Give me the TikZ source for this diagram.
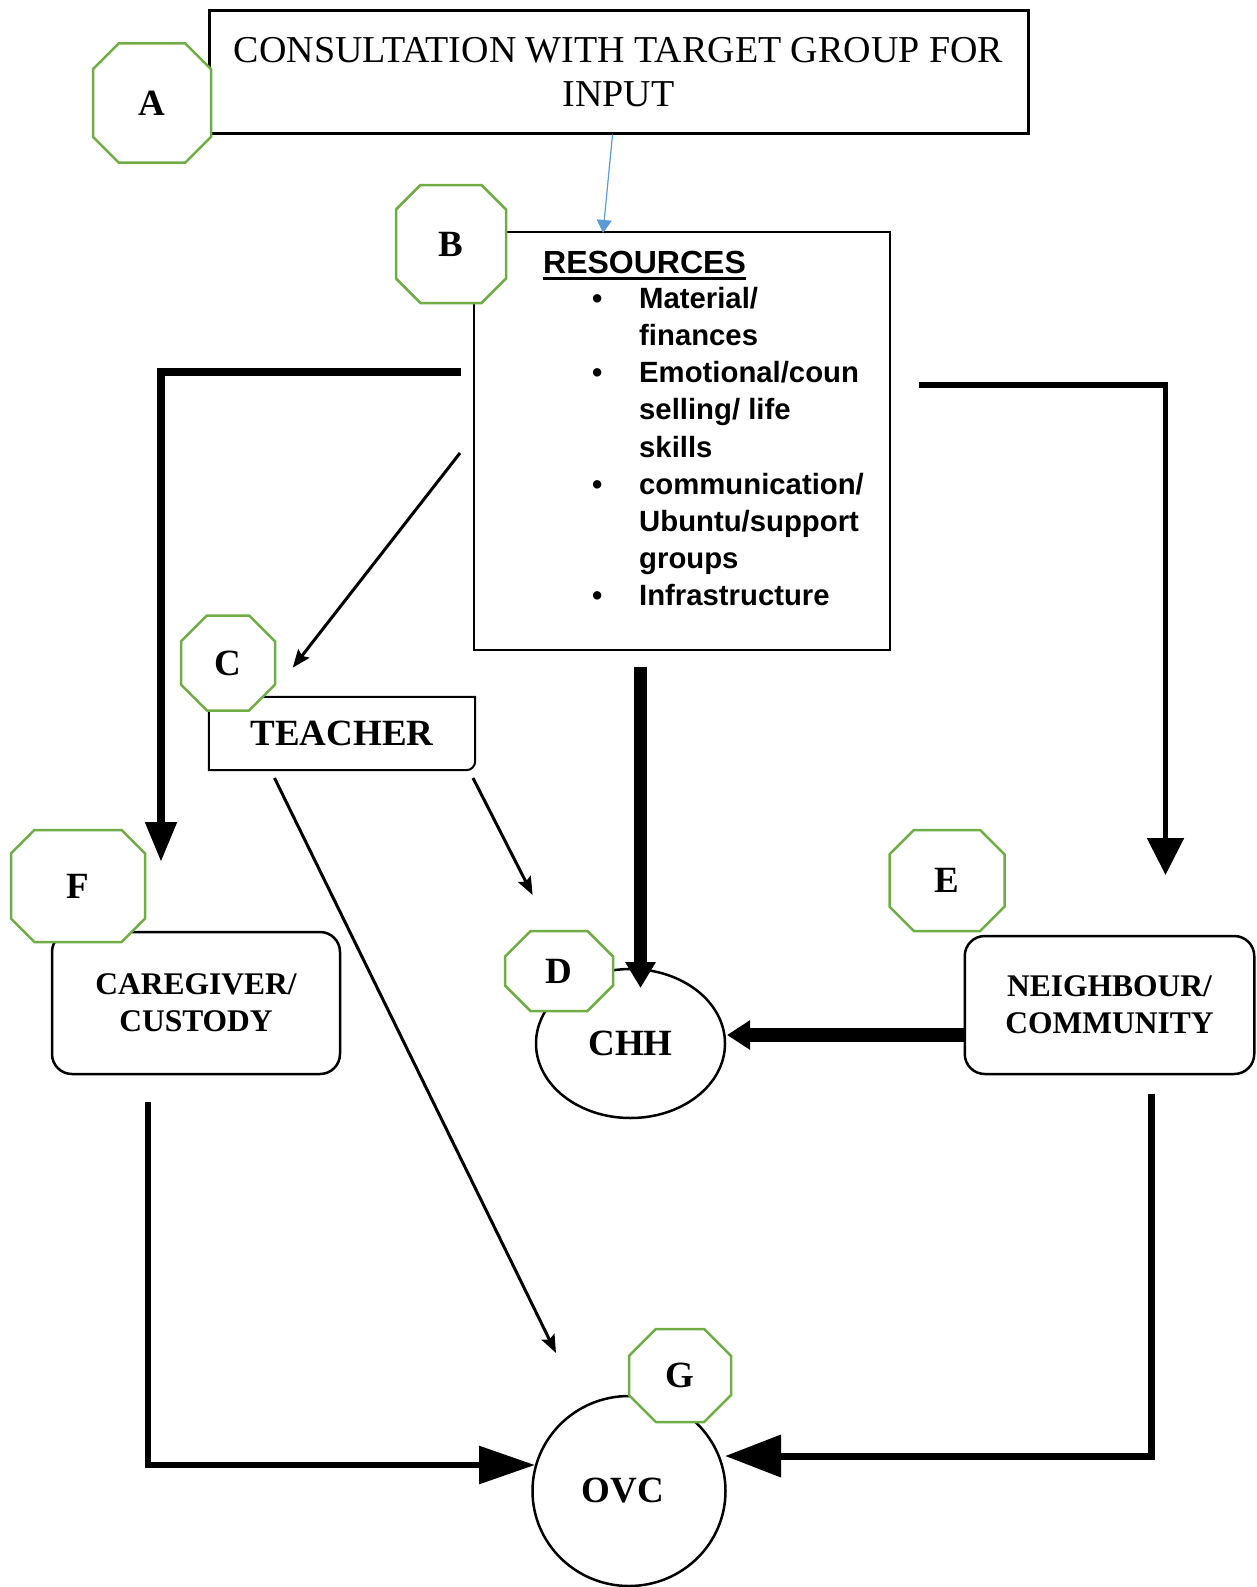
\documentclass[tikz,border=0pt]{standalone}
\usepackage{fontspec}
\setmainfont{Liberation Serif}
\setsansfont{Liberation Sans}
\usetikzlibrary{arrows.meta,shapes.misc,shapes.geometric}
\definecolor{octgreen}{RGB}{112,173,71}
\definecolor{linkblue}{RGB}{91,155,213}

\begin{document}
\begin{tikzpicture}[x=1pt,y=-1pt,
    oct/.style 2 args={chamfered rectangle,draw=octgreen,line width=2.5pt,fill=white,inner sep=0pt,
      minimum width=#1,minimum height=#2,chamfered rectangle xsep=0.29*#1,chamfered rectangle ysep=0.29*#2,
      font=\fontsize{37}{37}\selectfont\bfseries},
    roundbox/.style={draw,line width=2.5pt,rounded corners=20pt,align=center,
      font=\fontsize{31.5}{37}\selectfont\bfseries},
    bubble/.style={ellipse,draw,line width=2.5pt,inner sep=0pt,font=\fontsize{37}{37}\selectfont\bfseries},
    smallarrow/.style={line width=3pt,-{Stealth[length=18pt,width=14pt,inset=3pt]}}]
  \useasboundingbox (0,0) rectangle (1257,1587);

  % boxes
  \node[draw,line width=3pt,minimum width=819pt,minimum height=122pt,align=center,
    font=\fontsize{38}{44}\selectfont] (cons) at (618.5,72) {CONSULTATION WITH TARGET GROUP FOR\\INPUT};
  \node[draw,line width=2pt,minimum width=416pt,minimum height=418pt] (res) at (682,441) {};
  \node[anchor=base west,inner sep=0pt,font=\sffamily\bfseries\fontsize{32}{32}\selectfont] (reshd) at (543,273) {RESOURCES};
  \draw[line width=3pt] ([yshift=-5pt]reshd.base west) -- ([yshift=-5pt]reshd.base east);
  \node[anchor=north west,inner sep=0pt,font=\sffamily\bfseries\fontsize{29.3}{37.2}\selectfont] (reslist) at (592,282) {%
    \begin{tabular}{@{}p{47pt}@{}l@{}}
      \textbullet & Material/\\
                  & finances\\
      \textbullet & Emotional/coun\\
                  & selling/ life\\
                  & skills\\
      \textbullet & communication/\\
                  & Ubuntu/support\\
                  & groups\\
      \textbullet & Infrastructure
    \end{tabular}};

  \node[minimum width=266pt,minimum height=73pt,inner sep=0pt,font=\fontsize{37}{37}\selectfont\bfseries] (tch) at (342,733.5) {TEACHER};
  \draw[line width=2pt] (tch.north west) -- (tch.north east) [rounded corners=9pt] -- (tch.south east) [sharp corners] -- (tch.south west) -- cycle;

  \node[roundbox,minimum width=288pt,minimum height=142pt] (care) at (196,1003) {CAREGIVER/\\CUSTODY};
  \node[roundbox,minimum width=289.5pt,minimum height=138pt] (nb) at (1109.5,1005) {NEIGHBOUR/\\COMMUNITY};
  \node[bubble,minimum width=189pt,minimum height=149pt] (chh) at (630.5,1043.5) {CHH};
  \node[bubble,minimum width=193pt,minimum height=190pt] (ovc) at (629,1491) {OVC\kern12pt};

  % free ends
  \coordinate (resIn) at (603,233);
  \coordinate (resL) at (461,372);
  \coordinate (careIn) at (161,862);
  \coordinate (resR) at (919,385);
  \coordinate (nbIn) at (1165.5,875);
  \coordinate (resD) at (640.5,667);
  \coordinate (chhIn) at (640.5,988);
  \coordinate (chhR) at (727,1035);
  \coordinate (resT) at (460,453);
  \coordinate (tchIn) at (292.7,667.7);
  \coordinate (tchR) at (473,778);
  \coordinate (chhL) at (532.6,895);
  \coordinate (tchB) at (274.5,778);
  \coordinate (ovcT) at (556,1353);
  \coordinate (careD) at (148,1102);
  \coordinate (ovcL) at (535,1465);
  \coordinate (nbD) at (1151,1094);
  \coordinate (ovcR) at (725,1456);

  % connectors
  \draw[linkblue,line width=1.2pt,-{Triangle[length=13pt,width=15pt]}] ([xshift=-6pt]cons.south) -- (resIn);
  \draw[line width=8pt,-{Triangle[length=40pt,width=30pt]}] (resL) -| (careIn);
  \draw[line width=5.5pt,-{Triangle[length=37pt,width=36pt]}] (resR) -| (nbIn);
  \draw[line width=13pt,-{Triangle[length=26pt,width=29pt]}] (resD) -- (chhIn);
  \draw[line width=14pt,-{Triangle[length=23pt,width=28pt]}] (nb.west |- chhR) -- (chhR);
  \draw[smallarrow] (resT) -- (tchIn);
  \draw[smallarrow] (tchR) -- (chhL);
  \draw[smallarrow] (tchB) -- (ovcT);
  \draw[line width=6pt,-{Triangle[length=56pt,width=37pt]}] (careD) |- (ovcL);
  \draw[line width=7pt,-{Triangle[length=56pt,width=41pt]}] (nbD) |- (ovcR);

  % letters
  \node[oct={118pt}{119pt}] (octA) at (152,103) {A};
  \node[oct={110pt}{118pt}] (octB) at (451,244) {B};
  \node[oct={94pt}{95pt}] (octC) at (228,663) {C};
  \node[oct={108pt}{80pt}] (octD) at (559,971) {D};
  \node[oct={115pt}{101pt}] (octE) at (947,880.5) {E};
  \node[oct={134pt}{112pt}] (octF) at (78,886) {F};
  \node[oct={102pt}{93pt}] (octG) at (680,1375.5) {G};
\end{tikzpicture}
\end{document}
